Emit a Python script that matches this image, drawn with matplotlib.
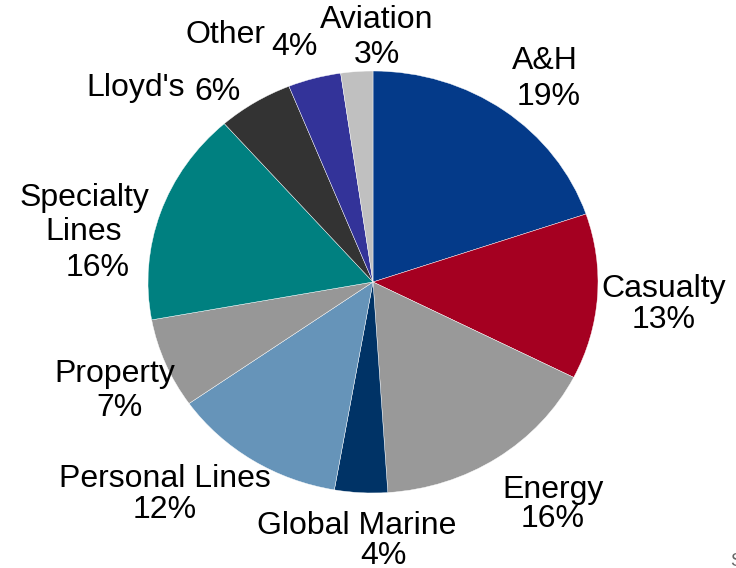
import matplotlib
matplotlib.use("Agg")
import matplotlib.pyplot as plt

plt.rcParams["font.family"] = ["Liberation Sans", "DejaVu Sans"]

# segment shares (%), clockwise from 12 o'clock; slice sizes read off the
# picture, label text as printed on the chart
segments = ["A&H", "Casualty", "Energy", "Global Marine", "Personal Lines",
            "Property", "Specialty\nLines", "Lloyd's", "Other", "Aviation"]
shares = [19.8, 12.7, 16.5, 3.8, 12.5, 6.9, 16.4, 5.4, 3.8, 2.3]
share_labels = ["19%", "13%", "16%", "4%", "12%", "7%", "16%", "6%", "4%", "3%"]

colors = ["#043A89", "#A50021", "#999999", "#003366", "#6694B9",
          "#979797", "#008080", "#333333", "#333399", "#C0C0C0"]

W, H = 736, 568
cx, cy = 373, 282      # pie centre in pixels (from top-left)
rx, ry = 225, 211      # the reference pie is slightly stretched sideways

fig = plt.figure(figsize=(W / 100, H / 100), dpi=100)
ax = fig.add_axes([0, 0, 1, 1])
ax.pie(shares, colors=colors, startangle=90, counterclock=False,
       wedgeprops=dict(edgecolor="white", linewidth=0.3))
ax.set_aspect("auto")
ax.set_xlim(-cx / rx, (W - cx) / rx)
ax.set_ylim(-(H - cy) / ry, cy / ry)
ax.axis("off")

# label placement in pixels: name xy, pct xy
name_xy = [(545, 61), (664, 289), (553, 490), (357, 526), (165, 479),
           (115, 374), (84, 215), (136, 88), (226, 35), (377, 20)]
pct_xy = [(549, 97), (664, 320), (553, 519), (383, 556), (165, 510),
          (120, 408), (98, 268), (218, 92), (294, 47), (377, 55)]


def px(x, y):
    return x / W, 1 - y / H


for name, nxy, pxy, lab in zip(segments, name_xy, pct_xy, share_labels):
    fig.text(*px(*nxy), name, ha="center", va="center", fontsize=23,
             linespacing=1.15)
    fig.text(*px(*pxy), lab, ha="center", va="center", fontsize=23)

# cut-off source note in the corner
fig.text(*px(730, 570), "S", ha="left", va="bottom", fontsize=13, color="#666666")

fig.savefig("out.png", dpi=100)
